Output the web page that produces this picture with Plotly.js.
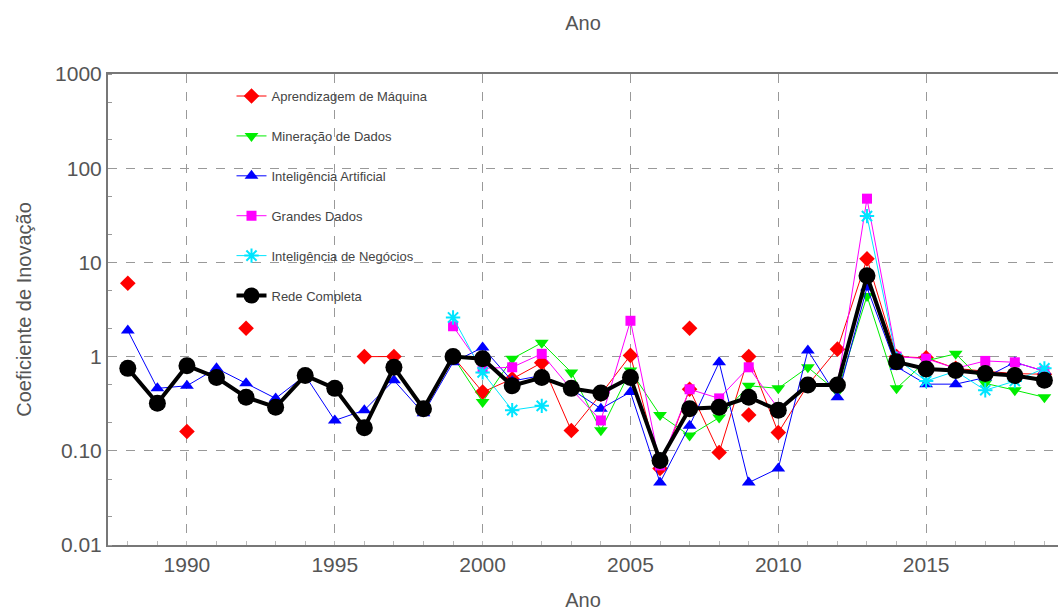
<!DOCTYPE html>
<html>
<head>
<meta charset="utf-8">
<script src="https://cdn.plot.ly/plotly-3.0.1.min.js"></script>
<style>html,body{margin:0;padding:0;background:#fff}#chart{width:1058px;height:614px}</style>
</head>
<body>
<div id="chart"></div>
<script>
const years = [1988,1989,1990,1991,1992,1993,1994,1995,1996,1997,1998,1999,2000,2001,2002,2003,2004,2005,2006,2007,2008,2009,2010,2011,2012,2013,2014,2015,2016,2017,2018,2019];

const aprendizagem = [6.0,null,0.16,null,2.0,null,null,null,1.0,1.0,null,1.0,0.42,0.58,0.86,0.164,0.4,1.03,0.065,0.45,0.096,1.0,0.156,0.5,1.2,10.9,1.0,0.97,0.75,0.7,0.66,0.65];
const aprendizagemExtraYears = [2007,2009];
const aprendizagemExtra = [2.0,0.24];

const mineracao = [null,null,null,null,null,null,null,null,null,null,0.29,1.0,0.33,0.95,1.4,0.68,0.165,0.71,0.24,0.145,0.225,0.49,0.46,0.77,0.42,4.4,0.46,0.9,1.07,0.52,0.44,0.37];

const inteligenciaArtificial = [1.89,0.46,0.49,0.75,0.52,0.36,0.63,0.21,0.27,0.56,0.25,0.87,1.25,0.55,0.63,0.45,0.28,0.42,0.046,0.185,0.87,0.046,0.065,1.16,0.37,5.4,0.78,0.51,0.51,0.6,0.87,0.7];

const grandesDados = [null,null,null,null,null,null,null,null,null,null,null,2.1,0.75,0.77,1.07,0.45,0.21,2.4,0.07,0.45,0.36,0.77,0.28,0.5,0.5,47.5,1.0,0.95,0.75,0.9,0.87,0.7];

const negocios = [null,null,null,null,null,null,null,null,null,null,null,2.6,0.68,0.27,0.30,null,null,null,null,null,null,null,null,null,null,31,0.95,0.55,0.7,0.44,0.55,0.75];

const redeCompleta = [0.75,0.32,0.80,0.60,0.37,0.29,0.63,0.46,0.176,0.77,0.28,1.0,0.95,0.49,0.60,0.46,0.41,0.60,0.079,0.28,0.29,0.37,0.27,0.50,0.50,7.2,0.88,0.74,0.71,0.66,0.63,0.56];

const yTickVals = [0.01,0.1,1,10,100,1000];
const yTickText = ["0.01","0.10","1","10","100","1000"];
const xTickVals = [1990,1995,2000,2005,2010,2015];

const legendFont = {family:'Liberation Sans, Arial, sans-serif', size:13, color:'#444'};

function series(name, y, color, symbol, size, extra) {
  return Object.assign({
    type:'scatter', mode:'lines+markers', name:name, x:years, y:y,
    connectgaps:false, legendgroup:name,
    line:{color:color, width:1},
    marker:{color:color, symbol:symbol, size:size}
  }, extra||{});
}

const traces = [
  series('Aprendizagem de Máquina', aprendizagem, '#ff0000', 'diamond', 12),
  {type:'scatter', mode:'markers', name:'Aprendizagem de Máquina', x:aprendizagemExtraYears, y:aprendizagemExtra,
   showlegend:false, legendgroup:'Aprendizagem de Máquina', marker:{color:'#ff0000', symbol:'diamond', size:12}},
  series('Mineração de Dados', mineracao, '#00ee00', 'triangle-down', 12),
  series('Inteligência Artificial', inteligenciaArtificial, '#0000ff', 'triangle-up', 12),
  series('Grandes Dados', grandesDados, '#ff00ff', 'square', 10),
  series('Inteligência de Negócios', negocios, '#00e5ff', 'asterisk-open', 12, {marker:{color:'#00e5ff', symbol:'asterisk-open', size:12, line:{color:'#00e5ff', width:2}}}),
  series('Rede Completa', redeCompleta, '#000000', 'circle', 17, {line:{color:'#000', width:4}})
];

const axisFont = {family:'Liberation Sans, Arial, sans-serif', size:21, color:'#555'};

const layout = {
  width:1058, height:614,
  margin:{l:108, r:0, t:74, b:69},
  paper_bgcolor:'#fff', plot_bgcolor:'#fff',
  title:{text:'Ano', x:0.5, xref:'paper', y:0.963, yanchor:'middle',
         font:{family:'Liberation Sans, Arial, sans-serif', size:20, color:'#555'}},
  xaxis:{
    range:[1987.33, 2019.46], tickvals:xTickVals, ticks:'', tickfont:axisFont,
    showgrid:true, gridcolor:'#999', griddash:'dash', gridwidth:1,
    showline:true, linecolor:'#777', linewidth:2, mirror:true, zeroline:false,
    minor:{dtick:1, ticks:'inside', ticklen:4, tickcolor:'#bbb', showgrid:false},
    title:{text:'Ano', standoff:18, font:{family:'Liberation Sans, Arial, sans-serif', size:20, color:'#555'}}
  },
  yaxis:{
    type:'log', range:[-2, 3], tickvals:yTickVals, ticktext:yTickText, ticks:'', tickfont:axisFont,
    showgrid:true, gridcolor:'#999', griddash:'dash', gridwidth:1,
    showline:true, linecolor:'#777', linewidth:2, mirror:true, zeroline:false,
    minor:{ticks:'inside', ticklen:4, tickcolor:'#999', showgrid:false},
    title:{text:'Coeficiente de Inovação', standoff:18, font:{family:'Liberation Sans, Arial, sans-serif', size:20, color:'#555'}}
  },
  legend:{x:0.13, y:0.985, xanchor:'left', yanchor:'top', bgcolor:'rgba(255,255,255,0)',
          font:legendFont, tracegroupgap:20, itemwidth:30},
  showlegend:true
};

Plotly.newPlot('chart', traces, layout, {displayModeBar:false, staticPlot:true});
</script>
</body>
</html>
